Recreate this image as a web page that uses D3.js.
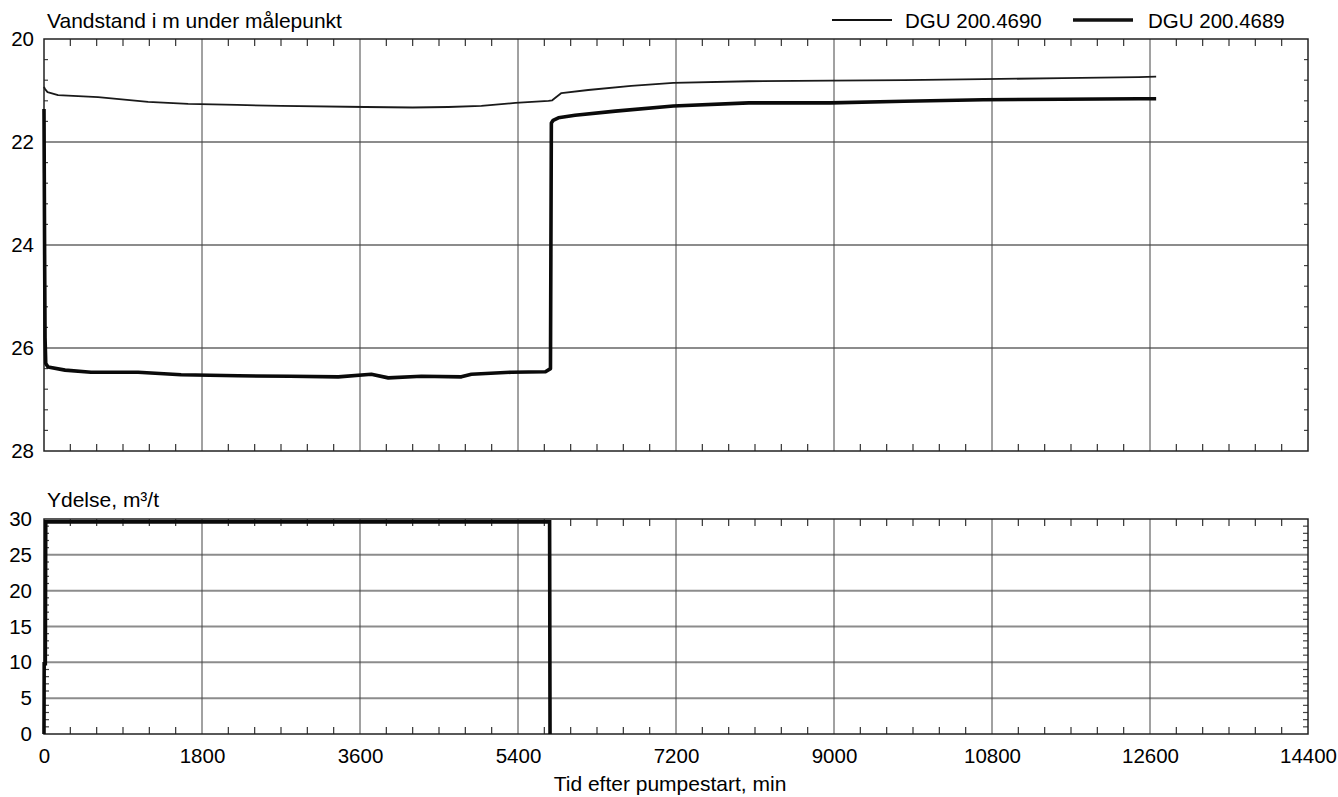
<!DOCTYPE html>
<html><head><meta charset="utf-8">
<script src="https://cdn.jsdelivr.net/npm/d3@7"></script>
<style>
body{margin:0;background:#fff}
svg text{font-family:"Liberation Sans",Arial,Helvetica,sans-serif;fill:#000}
</style>
</head><body>
<svg id="c" width="1338" height="797"></svg>
<script>
// ---- data ----
const xTicks = [0,1800,3600,5400,7200,9000,10800,12600,14400];
const levelTicks = [20,22,24,26,28];
const rateTicks = [0,5,10,15,20,25,30];
const seriesNames = ["DGU 200.4690","DGU 200.4689"];
const levelTitle = "Vandstand i m under målepunkt";
const rateTitle = "Ydelse, m³/t";
const xTitle = "Tid efter pumpestart, min";

// DGU 200.4690 (thin line): time (min), water level (m below reference)
const thinTime  = [0,10,40,160,616,1186,1642,2200,2702,3660,4200,4606,4983,5370,5747,5790,5840,5895,6200,6690,7170,8030,8960,9800,10700,11600,12470,12670];
const thinLevel = [20.93,20.97,21.03,21.09,21.13,21.22,21.26,21.28,21.30,21.32,21.33,21.32,21.30,21.24,21.20,21.19,21.12,21.05,20.99,20.91,20.85,20.82,20.81,20.80,20.78,20.76,20.74,20.73];

// DGU 200.4689 (thick line)
const thickTime  = [0,3,8,12,20,46,240,536,1072,1562,2212,2800,3352,3729,3922,4300,4755,4869,5325,5713,5770,5780,5800,5860,6050,6510,7170,8030,8960,9800,10700,11600,12470,12670];
const thickLevel = [21.36,22.6,24.5,25.8,26.3,26.37,26.43,26.47,26.47,26.52,26.54,26.55,26.56,26.51,26.58,26.55,26.56,26.51,26.47,26.46,26.40,21.63,21.58,21.53,21.48,21.40,21.30,21.24,21.24,21.21,21.18,21.17,21.16,21.16];

// Pump rate (m3/h)
const rateTime  = [0,2,15,20,5760,5765];
const rateValue = [0,9.8,9.8,29.6,29.6,0];

// ---- drawing ----
const svg = d3.select("#c");
const x = d3.scaleLinear().domain([0,14400]).range([44,1308]);
const yTop = d3.scaleLinear().domain([20,28]).range([39,451]);
const yBot = d3.scaleLinear().domain([0,30]).range([734,519]);

const minorX = d3.range(0,14401,300).filter(d => d % 1800 !== 0);
const minorTop = d3.range(20,28.001,0.4).filter(d => Math.abs(d/2 - Math.round(d/2)) > 1e-6);
const minorBot = d3.range(0,31,1).filter(d => d % 5 !== 0);

function panel(y, hGrid, minorY, yLen, labels, title, titleY, padL) {
  const [y0, y1] = y.range();
  const top = Math.min(y0,y1), bot = Math.max(y0,y1);
  const g = svg.append("g");
  g.selectAll(".hg").data(hGrid).join("line")
    .attr("x1", x.range()[0]).attr("x2", x.range()[1])
    .attr("y1", d => y(d)).attr("y2", d => y(d))
    .attr("stroke", "#8c8c8c").attr("stroke-width", 2);
  g.selectAll(".vg").data(xTicks.slice(1,-1)).join("line")
    .attr("x1", d => x(d)).attr("x2", d => x(d))
    .attr("y1", top).attr("y2", bot)
    .attr("stroke", "#444").attr("stroke-width", 1);
  g.selectAll(".mxt").data(minorX).join("line")
    .attr("x1", d => x(d)).attr("x2", d => x(d))
    .attr("y1", top).attr("y2", top + 7)
    .attr("stroke", "#333").attr("stroke-width", 1.2);
  g.selectAll(".mxb").data(minorX).join("line")
    .attr("x1", d => x(d)).attr("x2", d => x(d))
    .attr("y1", bot).attr("y2", bot - 7)
    .attr("stroke", "#333").attr("stroke-width", 1.2);
  g.selectAll(".myl").data(minorY).join("line")
    .attr("x1", x.range()[0]).attr("x2", x.range()[0] + yLen)
    .attr("y1", d => y(d)).attr("y2", d => y(d))
    .attr("stroke", "#444").attr("stroke-width", 1.2);
  g.selectAll(".myr").data(minorY).join("line")
    .attr("x1", x.range()[1]).attr("x2", x.range()[1] - yLen)
    .attr("y1", d => y(d)).attr("y2", d => y(d))
    .attr("stroke", "#444").attr("stroke-width", 1.2);
  g.append("rect").attr("x", x.range()[0]).attr("y", top)
    .attr("width", x.range()[1] - x.range()[0]).attr("height", bot - top)
    .attr("fill", "none").attr("stroke", "#222").attr("stroke-width", 1.5);
  const ax = svg.append("g").attr("transform", `translate(${x.range()[0]},0)`)
    .call(d3.axisLeft(y).tickValues(labels).tickSize(0).tickPadding(padL).tickFormat(d3.format("d")));
  ax.select(".domain").remove();
  ax.selectAll("text").style("font-size", "20.5px").attr("fill", "#000");
  svg.append("text").attr("x", 47).attr("y", titleY).style("font-size", "21px").text(title);
  return g;
}

panel(yTop, [22,24,26], minorTop, 4, levelTicks, levelTitle, 28, 10);
panel(yBot, [5,10,15,20,25], minorBot, 5, rateTicks, rateTitle, 507, 12);

const xa = svg.append("g").attr("transform", "translate(0,734)")
  .call(d3.axisBottom(x).tickValues(xTicks).tickSize(0).tickPadding(14).tickFormat(d3.format("d")));
xa.select(".domain").remove();
xa.selectAll("text").style("font-size", "20.5px").attr("fill", "#000");
svg.append("text").attr("x", 670).attr("y", 791)
  .attr("text-anchor", "middle").style("font-size", "21px").text(xTitle);

const mk = (T, V, y) => T.map((t, i) => [x(t), y(V[i])]);
const line = d3.line();
svg.append("path").attr("d", line(mk(thinTime, thinLevel, yTop)))
  .attr("fill", "none").attr("stroke", "#1a1a1a").attr("stroke-width", 1.8).attr("stroke-linejoin", "round");
svg.append("path").attr("d", line(mk(thickTime, thickLevel, yTop)))
  .attr("fill", "none").attr("stroke", "#0a0a0a").attr("stroke-width", 3.6).attr("stroke-linejoin", "round");
svg.append("path").attr("d", line(mk(rateTime, rateValue, yBot)))
  .attr("fill", "none").attr("stroke", "#0a0a0a").attr("stroke-width", 3.6).attr("stroke-linejoin", "miter");

const leg = [
  {name: seriesNames[0], x1: 832, x2: 892, tx: 905, w: 1.8},
  {name: seriesNames[1], x1: 1073, x2: 1133, tx: 1148, w: 3.6}
];
const lg = svg.append("g");
lg.selectAll("line").data(leg).join("line")
  .attr("x1", d => d.x1).attr("x2", d => d.x2).attr("y1", 20).attr("y2", 20)
  .attr("stroke", "#111").attr("stroke-width", d => d.w);
lg.selectAll("text").data(leg).join("text")
  .attr("x", d => d.tx).attr("y", 28).style("font-size", "20.5px").text(d => d.name);
</script>
</body></html>
